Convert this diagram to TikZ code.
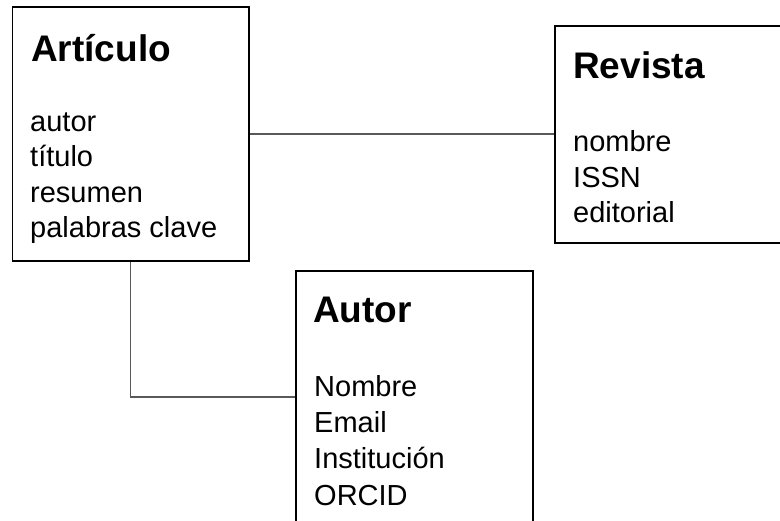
\documentclass[tikz,border=0pt]{standalone}
\usepackage{fontspec}
\setmainfont{Liberation Sans}
\begin{document}
\begin{tikzpicture}[x=1pt,y=-1pt,
  entity/.style={draw=black,line width=1.6pt,rectangle,inner sep=0pt,anchor=north west,fill=none},
  title/.style={anchor=base west,inner sep=0pt,font=\fontsize{37}{44}\selectfont\bfseries},
  attr/.style={anchor=base west,inner sep=0pt,font=\fontsize{29}{35}\selectfont},
  link/.style={draw=black!65,line width=1.5pt}]
\useasboundingbox (0,0) rectangle (780,521);
\clip (0,0) rectangle (780,521);
% boxes
\node[entity,minimum width=236.5pt,minimum height=253.5pt] (art) at (11.5,6.5) {};
\node[entity,minimum width=250pt,minimum height=217pt] (rev) at (554,25) {};
\node[entity,minimum width=237pt,minimum height=252pt] (aut) at (295,270) {};
% Articulo
\node[title] (artT) at (31,62) {Artículo};
\node[attr] (a1) at (30,132) {autor};
\node[attr] (a2) at (30,167) {título};
\node[attr] (a3) at (30,203) {resumen};
\node[attr] (a4) at (30,238) {palabras clave};
% Revista
\node[title] (revT) at (573,79) {Revista};
\node[attr] (r1) at (573,152) {nombre};
\node[attr] (r2) at (573,188) {ISSN};
\node[attr] (r3) at (573,223) {editorial};
% Autor
\node[title] (autT) at (313,323) {Autor};
\node[attr] (u1) at (314,397) {Nombre};
\node[attr] (u2) at (314,433) {Email};
\node[attr] (u3) at (314,469) {Institución};
\node[attr] (u4) at (314,505) {ORCID};
% connectors
\draw[link] (art.east) -- (art.east -| rev.west);
\draw[link] (art.south) |- (aut.west);
\end{tikzpicture}
\end{document}
